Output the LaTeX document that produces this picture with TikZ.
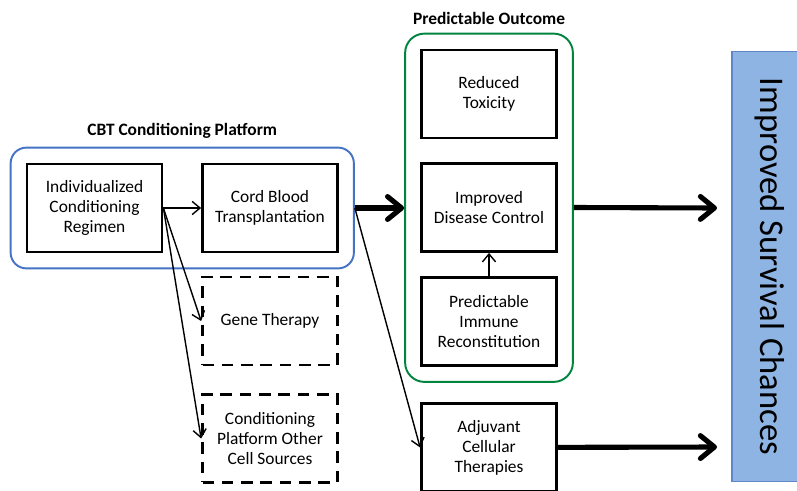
\documentclass[tikz,border=0pt]{standalone}
\usepackage{fontspec}
\setmainfont{Carlito}
\usepackage{tikz}
\usetikzlibrary{arrows.meta, positioning, fit}

\definecolor{platblue}{RGB}{68,114,196}
\definecolor{outgreen}{RGB}{0,132,62}
\definecolor{survfill}{RGB}{142,180,227}
\definecolor{survline}{RGB}{95,135,200}

\begin{document}
\begin{tikzpicture}[
  x=0.02cm, y=-0.02cm,
  box/.style={rectangle, draw, line width=1.6pt, minimum width=2.7cm, minimum height=1.76cm, align=center, font=\fontsize{9.9}{11.4}\selectfont},
  dbox/.style={box, dashed, dash pattern=on 6.5pt off 4.5pt},
  group/.style={rectangle, draw, rounded corners=9pt, line width=1.1pt, inner sep=0.3cm},
  title/.style={font=\bfseries\fontsize{9.9}{11.4}\selectfont},
  arrow/.style={-{Straight Barb[length=4.5pt, width=7.5pt]}, line width=0.8pt},
  bigarrow/.style={-{Straight Barb[length=8pt, width=13pt, round]}, line width=2.9pt},
]
  \useasboundingbox (0,0) rectangle (797,490);

  % conditioning platform
  \node[box] (reg) at (94.5,208) {Individualized\\Conditioning\\Regimen};
  \node[box] (cbt) at (270,208) {Cord Blood\\Transplantation};
  \node[dbox] (gene) at (270,321) {Gene Therapy};
  \node[dbox] (other) at (270,438.5) {Conditioning\\Platform Other\\Cell Sources};
  \node[group, draw=platblue, fit=(reg)(cbt)] (plat) {};
  \node[title, above=1pt of plat] {CBT Conditioning Platform};

  % outcomes
  \node[box] (tox) at (489,94) {Reduced\\Toxicity};
  \node[box] (dis) at (489,207.5) {Improved\\Disease Control};
  \node[box] (imm) at (489,321.5) {Predictable\\Immune\\Reconstitution};
  \node[group, draw=outgreen, rounded corners=11pt, fit=(tox)(imm)] (outc) {};
  \node[title, above=1pt of outc] {Predictable Outcome};
  \node[box] (adj) at (489,447.5) {Adjuvant\\Cellular\\Therapies};

  \node[draw=survline, fill=survfill, line width=0.6pt, rotate=-90, minimum width=8.62cm, minimum height=1.52cm, font=\fontsize{19.7}{22}\selectfont] (surv) at (770,266.5) {Improved Survival Chances};

  \coordinate (e1) at (717,208);
  \coordinate (e2) at (717,447);

  \draw[arrow] (reg) -- (cbt);
  \draw[arrow] (reg.east) -- (gene.west);
  \draw[arrow] (reg.east) -- (other.west);
  \draw[arrow] (imm) -- (dis);
  \draw[arrow] (plat.east |- cbt) -- (adj.west);
  \draw[bigarrow] (plat.east |- cbt) -- (outc.west |- cbt);
  \draw[bigarrow] (outc.east |- dis) -- (e1);
  \draw[bigarrow] (adj) -- (e2);
\end{tikzpicture}
\end{document}
